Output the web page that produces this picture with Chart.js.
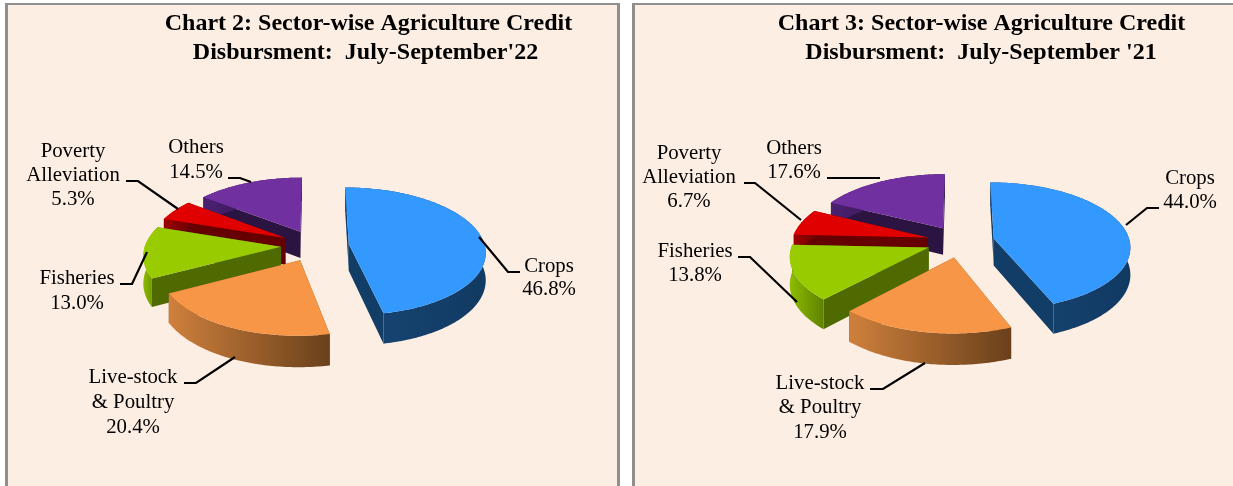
<!DOCTYPE html>
<html>
<head>
<meta charset="utf-8">
<script src="https://cdn.jsdelivr.net/npm/chart.js@4"></script>
<style>
html,body{margin:0;padding:0;background:#fff;overflow:hidden;width:1233px;height:486px}
.panel{position:absolute;box-sizing:border-box;background:#FDEEE3;border:solid #8F8F8F;border-width:2px 3px 0 3px;top:3px;height:483px}
#p1{left:5px;width:615px}
#p2{left:632px;width:604px;border-right:0}
canvas{position:absolute;left:0;top:0}
</style>
</head>
<body>
<div class="panel" id="p1"><canvas id="c1" width="609" height="481"></canvas></div>
<div class="panel" id="p2"><canvas id="c2" width="598" height="481"></canvas></div>
<script>
// ---- data ----
const categories = ['Crops', 'Live-stock & Poultry', 'Fisheries', 'Poverty Alleviation', 'Others'];
const valuesSep22 = [46.8, 20.4, 13.0, 5.3, 14.5];
const valuesSep21 = [44.0, 17.9, 13.8, 6.7, 17.6];
const titleSep22 = ['Chart 2: Sector-wise Agriculture Credit', "Disbursment:  July-September'22"];
const titleSep21 = ['Chart 3: Sector-wise Agriculture Credit', "Disbursment:  July-September '21"];

// ---- styles ----
const topColors  = ['#3399FF', '#F79646', '#99CC00', '#E00000', '#7030A0'];
const wallColors = ['#123D66', '#7A4A20', '#4F6A00', '#660000', '#2C1442'];
const rimColors  = [['#174676', '#113A62'], ['#CE803C', '#6A401B'], ['#8DBC00', '#5F8200'], ['#A00000', '#700000'], ['#4A2070', '#2C1442']];
const FONT = '"Liberation Serif", "Times New Roman", serif';
const RADIUS = 136, EXPLODE = 34, TILT = 0.465, PERSP = 0.115, DEPTH = 27;

// ---- annotation layout, page coordinates ----
const layoutSep22 = {
  panel: [8, 5],
  titleX: [368.5, 365.5], titleY: [24, 53],
  padding: {left: 5, bottom: 0},
  labels: [
    {x: 549, ys: [267, 290], lines: ['Crops']},
    {x: 133, ys: [378, 403, 428], lines: ['Live-stock', '& Poultry']},
    {x: 77,  ys: [279, 304], lines: ['Fisheries']},
    {x: 73,  ys: [152, 176, 200], lines: ['Poverty', 'Alleviation']},
    {x: 196, ys: [148, 173], lines: ['Others']}
  ],
  leaders: [
    [[520,272],[508,272],[479,237]],
    [[184,383],[196,383],[235,357]],
    [[120,284],[132,284],[147,252]],
    [[126,181],[138,181],[178,209]],
    [[228,178],[240,178],[251,182]]
  ]
};
const layoutSep21 = {
  panel: [635, 5],
  titleX: [981.5, 981], titleY: [24, 53],
  padding: {left: 53, bottom: 8},
  labels: [
    {x: 1190, ys: [179, 203], lines: ['Crops']},
    {x: 820,  ys: [384, 408, 433], lines: ['Live-stock', '& Poultry']},
    {x: 695,  ys: [252, 276], lines: ['Fisheries']},
    {x: 689,  ys: [154, 178, 202], lines: ['Poverty', 'Alleviation']},
    {x: 794,  ys: [149, 173], lines: ['Others']}
  ],
  leaders: [
    [[1159,208],[1147,208],[1126,225]],
    [[870,389],[883,389],[925,363]],
    [[738,257],[750,257],[797,302]],
    [[744,183],[755,183],[801,220]],
    [[827,178],[880,178]]
  ]
};

// Projects a point of the flat pie (in radius units, y towards the viewer).
function project(arc, u, v) {
  const s = 1 / (1 - PERSP * v);
  return {x: arc.x + arc.outerRadius * u * s, y: arc.y + arc.outerRadius * TILT * v * s, s};
}
function polygon(ctx, pts) {
  ctx.beginPath();
  pts.forEach((p, i) => i ? ctx.lineTo(p.x, p.y) : ctx.moveTo(p.x, p.y));
  ctx.closePath();
}
function drawSlice(ctx, arc, i) {
  const start = arc.startAngle, end = arc.endAngle, mid = (start + end) / 2;
  const e = arc.options.offset / arc.outerRadius;
  const au = e * Math.cos(mid), av = e * Math.sin(mid);
  const down = p => ({x: p.x, y: p.y + DEPTH * p.s});
  const apex = project(arc, au, av);
  const edge = [];
  const n = Math.max(12, Math.ceil((end - start) * 60));
  for (let k = 0; k <= n; k++) {
    const a = start + (end - start) * k / n;
    edge.push(project(arc, au + Math.cos(a), av + Math.sin(a)));
  }
  ctx.fillStyle = wallColors[i];
  polygon(ctx, [apex, edge[0], down(edge[0]), down(apex)]); ctx.fill();
  polygon(ctx, [apex, edge[n], down(edge[n]), down(apex)]); ctx.fill();
  const xs = edge.map(p => p.x);
  const g = ctx.createLinearGradient(Math.min(...xs), 0, Math.max(...xs), 0);
  g.addColorStop(0, rimColors[i][0]);
  g.addColorStop(1, rimColors[i][1]);
  ctx.fillStyle = g;
  polygon(ctx, edge.concat(edge.map(down).reverse())); ctx.fill();
  ctx.fillStyle = arc.options.backgroundColor;
  polygon(ctx, [apex].concat(edge)); ctx.fill();
}

const pie3d = {
  id: 'pie3d',
  beforeDatasetDraw(chart, args) {
    const ctx = chart.ctx;
    const arcs = args.meta.data;
    ctx.save();
    for (let i = arcs.length - 1; i >= 0; i--) drawSlice(ctx, arcs[i], i);
    ctx.restore();
    return false;
  }
};
const annotations = {
  id: 'annotations',
  afterDraw(chart, args, opts) {
    const ctx = chart.ctx, L = opts.layout, [ox, oy] = L.panel;
    ctx.save();
    ctx.translate(-ox, -oy);
    ctx.textAlign = 'center';
    ctx.textBaseline = 'middle';
    ctx.fillStyle = '#000';
    ctx.font = 'bold ' + opts.titleSize + 'px ' + FONT;
    opts.title.forEach((t, i) => ctx.fillText(t, L.titleX[i], L.titleY[i]));
    ctx.font = opts.labelSize + 'px ' + FONT;
    const values = chart.data.datasets[0].data;
    L.labels.forEach((lab, i) => {
      lab.lines.concat([values[i].toFixed(1) + '%']).forEach((t, k) => ctx.fillText(t, lab.x, lab.ys[k]));
    });
    ctx.strokeStyle = '#000';
    ctx.lineWidth = 2.2;
    L.leaders.forEach(pts => {
      ctx.beginPath();
      pts.forEach((p, i) => i ? ctx.lineTo(p[0], p[1]) : ctx.moveTo(p[0], p[1]));
      ctx.stroke();
    });
    ctx.restore();
  }
};

function build(id, values, title, layout) {
  new Chart(document.getElementById(id), {
    type: 'pie',
    data: {
      labels: categories,
      datasets: [{data: values, backgroundColor: topColors, borderWidth: 0, offset: EXPLODE}]
    },
    options: {
      responsive: false,
      animation: false,
      radius: RADIUS,
      layout: {padding: layout.padding},
      events: [],
      plugins: {
        legend: {display: false},
        tooltip: {enabled: false},
        annotations: {title, layout, titleSize: 24, labelSize: 20.8}
      }
    },
    plugins: [pie3d, annotations]
  });
}
build('c1', valuesSep22, titleSep22, layoutSep22);
build('c2', valuesSep21, titleSep21, layoutSep21);
</script>
</body>
</html>
